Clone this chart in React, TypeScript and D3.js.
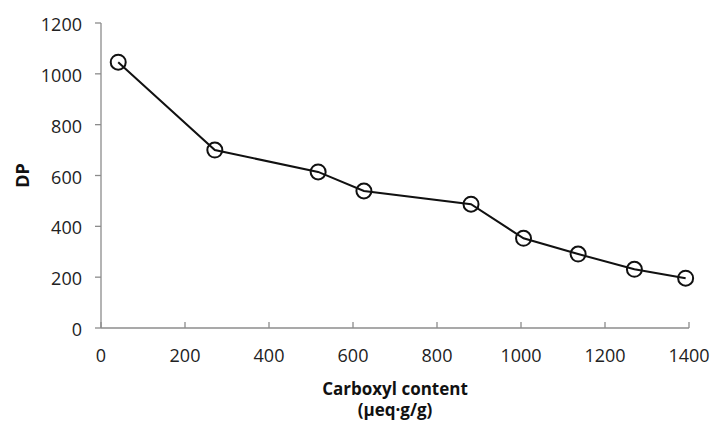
import React from "react";
import * as d3 from "d3";

const carboxyl = [41, 271, 517, 626, 881, 1006, 1136, 1270, 1392];
const dp = [1046, 700, 614, 539, 487, 353, 291, 231, 196];
const xTicks = [0, 200, 400, 600, 800, 1000, 1200, 1400];
const yTicks = [0, 200, 400, 600, 800, 1000, 1200];

const W = 712;
const H = 421;
const font = "'Open Sans', Calibri, sans-serif";

export default function App() {
  const x = d3.scaleLinear().domain([0, 1400]).range([101, 689]);
  const y = d3.scaleLinear().domain([0, 1200]).range([328, 23]);
  const pts = carboxyl.map((c, i) => [c, dp[i]] as [number, number]);
  const line = d3
    .line<[number, number]>()
    .x((d) => x(d[0]))
    .y((d) => y(d[1]));
  const axisColor = "#8c8c8c";
  return (
    <svg
      width={W}
      height={H}
      style={{ position: "absolute", left: 0, top: 0, background: "#fff" }}
    >
      {/* y axis */}
      <line x1={x(0)} x2={x(0)} y1={y(0)} y2={y(1200)} stroke={axisColor} strokeWidth={1.3} />
      {yTicks.map((t) => (
        <g key={"y" + t}>
          <line x1={x(0) - 6} x2={x(0)} y1={y(t)} y2={y(t)} stroke={axisColor} strokeWidth={1.3} />
          <text
            x={82}
            y={y(t) + 1}
            textAnchor="end"
            dominantBaseline="central"
            fontFamily={font}
            fontSize={18}
            fill="#222"
          >
            {t}
          </text>
        </g>
      ))}
      {/* x axis */}
      <line x1={x(0)} x2={x(1400)} y1={y(0)} y2={y(0)} stroke={axisColor} strokeWidth={1.3} />
      {xTicks.map((t) => (
        <g key={"x" + t}>
          <line x1={x(t)} x2={x(t)} y1={y(0) - 6} y2={y(0)} stroke={axisColor} strokeWidth={1.3} />
          <text
            x={x(t)}
            y={355}
            textAnchor="middle"
            dominantBaseline="central"
            fontFamily={font}
            fontSize={18}
            fill="#222"
          >
            {t}
          </text>
        </g>
      ))}
      {/* titles */}
      <text
        x={395}
        y={388}
        textAnchor="middle"
        dominantBaseline="central"
        fontFamily={font}
        fontSize={17}
        fontWeight="bold"
        fill="#111"
      >
        Carboxyl content
      </text>
      <text
        x={395}
        y={409}
        textAnchor="middle"
        dominantBaseline="central"
        fontFamily={font}
        fontSize={17}
        fontWeight="bold"
        fill="#111"
      >
        (μeq·g/g)
      </text>
      <text
        transform={`translate(22, ${y(600)}) rotate(-90)`}
        textAnchor="middle"
        dominantBaseline="central"
        fontFamily={font}
        fontSize={18}
        fontWeight="bold"
        fill="#111"
      >
        DP
      </text>
      {/* series */}
      <path d={line(pts) || ""} fill="none" stroke="#111" strokeWidth={2} />
      {pts.map((p, i) => (
        <circle
          key={i}
          cx={x(p[0])}
          cy={y(p[1])}
          r={7.5}
          fill="none"
          stroke="#111"
          strokeWidth={2}
        />
      ))}
    </svg>
  );
}
